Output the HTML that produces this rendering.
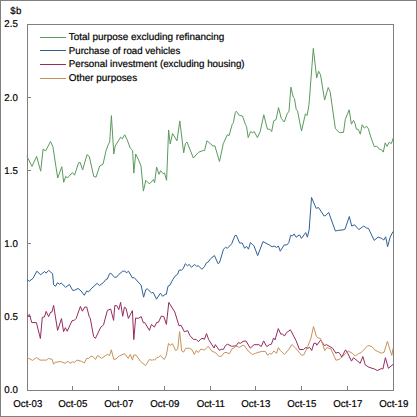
<!DOCTYPE html><html><head><meta charset="utf-8"><style>html,body{margin:0;padding:0;background:#fff;}svg{display:block;}text{text-rendering:geometricPrecision;font-family:"Liberation Sans",sans-serif;fill:#000;stroke:#000;stroke-width:0.2px;}</style></head><body>
<svg width="417" height="417" viewBox="0 0 417 417">
<rect x="0.5" y="0.5" width="416" height="416" fill="#fff" stroke="#808080" stroke-width="1"/>
<rect x="27.5" y="24.5" width="366" height="366" fill="none" stroke="#808080" stroke-width="1"/>
<path d="M27,316.5h4 M27,243.5h4 M27,170.5h4 M27,97.5h4 M72.5,390v-4 M118.5,390v-4 M164.5,390v-4 M210.5,390v-4 M255.5,390v-4 M301.5,390v-4 M347.5,390v-4" stroke="#808080" stroke-width="1" fill="none"/>
<text transform="translate(17.80,393.00) scale(0.98,1)" font-size="9.9" text-anchor="end">0.0</text>
<text transform="translate(17.80,320.00) scale(0.98,1)" font-size="9.9" text-anchor="end">0.5</text>
<text transform="translate(17.80,247.00) scale(0.98,1)" font-size="9.9" text-anchor="end">1.0</text>
<text transform="translate(17.80,174.00) scale(0.98,1)" font-size="9.9" text-anchor="end">1.5</text>
<text transform="translate(17.80,101.00) scale(0.98,1)" font-size="9.9" text-anchor="end">2.0</text>
<text transform="translate(17.80,27.00) scale(0.98,1)" font-size="9.9" text-anchor="end">2.5</text>
<text transform="translate(27.80,407.00) scale(0.98,1)" font-size="9.9" text-anchor="middle">Oct-03</text>
<text transform="translate(72.80,407.00) scale(0.98,1)" font-size="9.9" text-anchor="middle">Oct-05</text>
<text transform="translate(118.80,407.00) scale(0.98,1)" font-size="9.9" text-anchor="middle">Oct-07</text>
<text transform="translate(164.80,407.00) scale(0.98,1)" font-size="9.9" text-anchor="middle">Oct-09</text>
<text transform="translate(210.80,407.00) scale(0.98,1)" font-size="9.9" text-anchor="middle">Oct-11</text>
<text transform="translate(255.80,407.00) scale(0.98,1)" font-size="9.9" text-anchor="middle">Oct-13</text>
<text transform="translate(301.80,407.00) scale(0.98,1)" font-size="9.9" text-anchor="middle">Oct-15</text>
<text transform="translate(347.80,407.00) scale(0.98,1)" font-size="9.9" text-anchor="middle">Oct-17</text>
<text transform="translate(393.80,407.00) scale(0.98,1)" font-size="9.9" text-anchor="middle">Oct-19</text>
<text transform="translate(10.20,14.20) scale(0.98,1)" font-size="9.9" text-anchor="start">$</text>
<text transform="translate(16.00,14.20) scale(0.98,1)" font-size="9.9" text-anchor="start">b</text>
<path d="M40,37.5H66" stroke="#5a9a5e" stroke-width="1"/>
<text x="68.8" y="40" font-size="9.9" textLength="155.5" lengthAdjust="spacingAndGlyphs">Total purpose excluding refinancing</text>
<path d="M40,50.5H66" stroke="#2e6096" stroke-width="1"/>
<text x="68.8" y="53.5" font-size="9.9" textLength="111.5" lengthAdjust="spacingAndGlyphs">Purchase of road vehicles</text>
<path d="M40,64.5H66" stroke="#962a5f" stroke-width="1"/>
<text x="68.8" y="67.2" font-size="9.9" textLength="175.8" lengthAdjust="spacingAndGlyphs">Personal investment (excluding housing)</text>
<path d="M40,78.5H66" stroke="#c8915a" stroke-width="1"/>
<text x="68.8" y="80.8" font-size="9.9" textLength="68.3" lengthAdjust="spacingAndGlyphs">Other purposes</text>
<polyline points="27.0,156.4 32.0,166.4 36.6,156.4 40.7,171.2 43.1,149.2 45.7,150.8 50.5,141.5 52.9,146.8 57.7,178.0 61.8,166.7 63.7,182.3 65.8,176.3 67.3,178.0 72.5,172.6 74.5,175.2 78.6,162.8 80.2,162.4 82.6,170.0 87.0,154.7 89.3,156.4 93.7,176.3 96.0,177.2 99.7,166.0 103.0,164.3 106.1,150.4 108.5,143.9 109.7,142.0 111.4,115.6 113.8,154.0 115.2,146.0 120.6,137.2 122.3,138.8 124.7,134.8 127.1,139.6 130.2,148.0 132.6,150.4 133.8,173.1 135.7,154.0 138.6,160.0 141.0,166.0 143.4,191.1 145.8,180.3 149.4,183.9 153.5,179.6 154.6,182.7 156.6,167.1 159.0,174.3 160.6,170.7 163.0,173.6 164.5,173.1 166.6,180.3 168.6,130.0 170.2,143.9 172.6,133.6 177.0,140.8 179.8,120.9 183.7,152.8 185.4,143.6 187.0,142.0 193.3,158.0 198.5,152.3 203.3,150.4 204.5,150.8 206.9,140.8 213.0,146.0 214.9,146.0 219.5,161.5 223.3,143.5 227.4,134.7 229.1,135.6 232.2,124.4 233.4,122.7 235.3,112.4 236.3,111.2 239.4,115.5 242.5,116.0 245.4,124.4 246.6,126.8 248.2,137.6 250.6,131.6 252.6,132.8 254.2,131.6 257.4,137.6 260.2,131.6 263.8,114.8 267.4,129.2 269.8,129.2 271.7,131.6 273.7,120.8 276.1,119.6 278.5,107.6 281.3,118.4 284.2,122.0 287.3,113.6 289.0,111.2 290.9,87.2 293.3,97.3 294.5,98.7 296.2,109.3 297.6,111.2 301.5,131.1 305.4,113.9 307.1,115.5 309.0,104.7 313.3,48.4 316.7,77.9 318.6,71.2 320.5,74.8 324.6,100.0 328.2,87.5 330.1,91.6 335.4,128.7 339.2,132.4 343.5,132.4 345.3,119.4 349.2,109.8 351.4,124.2 353.5,120.4 355.0,123.3 356.4,129.1 358.3,129.5 360.3,134.2 362.2,124.7 364.3,128.1 366.5,126.2 368.4,128.8 370.8,137.1 374.4,146.8 376.6,146.0 379.4,149.2 381.3,149.6 383.3,152.1 385.2,142.9 387.1,146.3 389.1,142.4 391.4,143.5 393.4,137.7" fill="none" stroke="#5a9a5e" stroke-width="1" stroke-linejoin="round"/>
<polyline points="27.0,279.4 29.2,281.3 33.0,278.4 36.8,271.2 40.7,274.7 44.6,271.5 46.0,273.2 48.6,270.4 52.6,273.7 53.6,284.7 55.5,286.3 57.5,282.7 59.4,284.2 61.2,283.0 65.6,287.3 69.4,284.5 72.8,290.5 74.5,290.2 78.1,288.5 81.0,290.9 84.3,295.3 86.7,290.9 88.6,291.9 90.8,289.1 97.2,283.3 99.4,285.6 103.7,282.3 105.9,279.4 107.3,279.0 109.5,273.7 110.9,273.2 114.5,277.3 116.4,277.3 118.8,274.4 122.7,271.2 124.6,271.2 126.7,272.7 128.5,271.2 132.5,278.0 134.2,277.6 141.1,285.2 143.6,297.2 145.8,289.6 147.2,288.8 151.5,292.9 153.2,292.4 156.5,299.2 160.4,293.2 162.7,296.3 165.2,294.3 166.3,294.3 168.1,286.0 169.9,285.3 172.8,279.5 175.3,275.9 177.7,274.2 179.1,270.1 181.7,270.1 183.2,268.7 185.3,263.7 187.5,265.8 189.2,264.4 191.5,267.3 194.7,264.4 196.7,266.4 198.2,265.6 201.9,269.3 204.4,266.7 206.5,262.7 208.2,262.1 210.5,258.8 214.4,255.5 218.0,263.6 219.5,262.7 223.5,249.2 225.5,247.3 227.4,248.3 231.7,243.7 235.0,235.4 236.4,235.4 239.6,243.0 242.2,243.0 244.6,248.3 246.5,246.3 248.5,249.2 250.4,242.6 252.3,244.4 253.8,245.5 257.7,255.6 263.0,241.6 269.2,244.9 272.1,246.8 274.0,246.0 276.5,247.4 278.4,246.0 280.3,251.2 284.2,244.9 286.9,244.9 288.8,242.6 290.7,235.3 292.6,235.9 294.1,233.9 296.1,237.2 299.5,234.9 301.4,238.4 305.7,232.6 307.4,237.2 309.2,229.4 311.5,197.5 316.2,208.3 318.6,207.6 324.1,216.0 325.8,215.5 328.7,212.4 335.4,231.1 337.8,230.4 343.0,229.9 345.0,229.2 349.3,216.5 351.7,226.0 354.6,224.8 358.9,229.6 363.7,226.0 366.5,228.0 368.5,228.4 374.2,240.4 378.1,237.1 381.4,238.3 383.8,240.0 385.7,236.8 387.6,246.7 390.0,237.6 392.9,231.6" fill="none" stroke="#2e6096" stroke-width="1" stroke-linejoin="round"/>
<polyline points="27.0,316.6 29.4,314.5 31.8,322.6 36.4,322.6 40.4,338.5 42.3,317.4 44.4,317.0 46.2,311.4 48.6,316.6 50.7,312.1 51.9,312.1 53.6,305.4 57.6,330.4 61.5,318.6 63.6,331.6 65.4,327.7 67.2,331.3 72.0,320.8 74.4,320.2 76.2,318.4 80.4,306.4 82.4,311.2 84.8,307.0 86.8,307.2 89.1,316.3 90.3,318.4 93.6,336.4 95.4,338.4 100.8,327.1 103.5,325.0 107.4,310.3 110.7,309.1 113.6,320.4 114.8,305.6 116.7,305.6 118.8,309.6 120.6,302.4 122.7,316.3 124.4,307.2 126.0,308.2 128.4,318.4 132.4,310.6 133.8,339.6 135.6,318.0 138.3,318.4 141.2,316.6 143.4,322.8 144.8,322.6 149.4,330.4 151.5,324.4 154.4,327.1 156.8,322.3 158.4,322.3 161.4,316.0 163.8,316.6 166.4,324.4 168.8,302.4 174.8,312.0 179.0,325.8 181.0,325.2 184.4,331.8 187.7,330.6 189.8,335.4 193.4,339.4 196.2,339.4 198.4,341.7 201.0,338.8 203.0,338.4 204.4,339.4 206.5,333.6 208.7,339.6 214.0,348.0 215.4,344.6 219.3,350.3 221.7,349.2 223.4,349.4 225.5,345.5 227.4,344.2 231.5,346.2 233.7,346.2 236.3,345.6 238.3,342.7 240.6,343.3 243.1,341.3 245.9,340.9 250.3,348.1 254.1,344.7 258.9,344.7 261.3,346.6 263.6,340.9 266.8,346.6 269.4,344.7 271.4,344.2 273.6,338.0 275.0,339.9 278.3,328.6 280.8,334.1 282.7,334.1 284.4,336.1 286.5,332.7 290.4,329.8 296.2,340.9 299.5,349.5 303.4,349.5 306.0,347.3 307.7,348.5 309.6,347.3 311.7,350.5 313.9,343.3 316.0,343.3 316.8,345.2 320.6,340.1 324.4,345.6 326.4,344.7 328.0,345.5 332.6,348.2 335.9,353.2 338.1,352.2 339.8,353.5 341.8,357.2 345.5,349.8 347.7,353.2 351.5,361.1 353.5,357.7 360.2,363.3 362.8,356.5 365.3,364.9 369.0,367.3 374.5,369.0 377.3,370.6 381.2,368.6 382.9,369.0 385.4,357.7 388.4,368.3 393.0,364.4" fill="none" stroke="#962a5f" stroke-width="1" stroke-linejoin="round"/>
<polyline points="27.0,357.3 32.5,360.4 36.4,357.6 40.0,360.1 46.4,360.1 48.6,358.4 52.2,359.4 53.6,364.2 55.1,362.3 60.8,361.6 65.1,363.3 68.0,361.3 69.9,363.3 72.3,361.9 74.5,362.3 77.1,360.1 81.4,361.3 84.3,363.0 86.7,358.4 88.6,358.4 90.8,356.1 92.9,356.5 95.4,359.4 97.7,355.5 101.5,358.4 107.3,354.4 109.5,355.5 111.3,349.8 113.8,359.4 115.9,359.0 119.5,355.8 124.6,353.7 128.2,358.4 130.3,354.4 132.5,360.1 133.6,355.1 136.1,355.1 140.4,361.3 145.5,365.6 149.4,359.5 152.2,360.3 153.7,359.2 154.7,360.3 157.0,357.4 158.4,357.4 160.4,355.5 164.2,359.5 166.2,355.9 168.5,343.4 170.2,345.4 172.4,343.7 175.7,350.6 177.7,349.2 179.6,331.5 181.7,350.9 183.5,352.1 185.8,348.3 189.6,348.3 191.9,349.7 194.3,354.5 196.2,350.6 198.4,352.5 200.7,349.2 202.7,349.4 204.2,350.3 208.2,346.3 212.1,351.3 215.1,352.5 218.8,356.1 221.2,356.4 224.1,352.8 226.0,352.3 229.4,353.8 232.0,348.8 233.7,348.1 235.9,346.2 239.5,347.3 243.1,345.2 244.5,345.9 248.1,350.9 252.4,354.5 255.3,353.4 258.2,352.4 261.8,351.4 265.4,351.4 267.5,355.3 269.7,353.4 271.4,354.2 274.0,350.9 276.5,353.4 278.3,347.6 280.1,350.2 284.4,354.5 288.4,349.9 291.9,344.5 295.6,348.1 301.7,355.3 303.8,354.8 307.7,346.6 311.0,338.0 313.5,326.5 316.3,336.1 318.2,338.0 320.4,338.4 322.5,343.7 324.7,350.5 326.8,347.6 330.9,348.8 335.9,360.2 339.3,359.4 342.6,356.5 348.2,351.0 352.2,353.2 355.2,356.0 358.6,353.5 361.1,352.7 367.8,345.5 372.0,346.5 374.5,349.8 381.2,353.2 384.1,352.2 387.4,341.4 391.8,355.5 393.0,348.5" fill="none" stroke="#c8915a" stroke-width="1" stroke-linejoin="round"/>
</svg></body></html>
